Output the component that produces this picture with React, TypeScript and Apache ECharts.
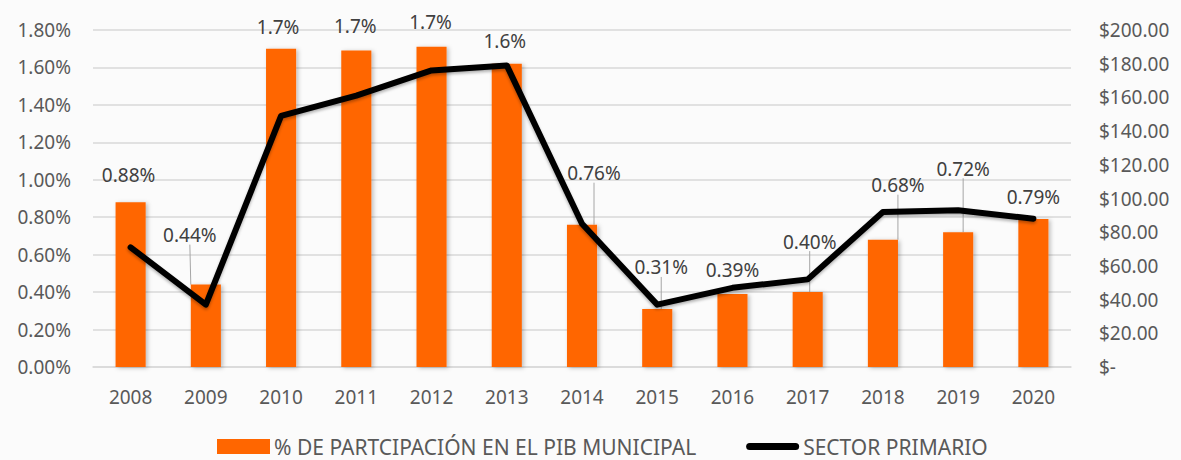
import React, { useEffect, useRef } from "react";
import * as echarts from "echarts";

const YEARS = ["2008", "2009", "2010", "2011", "2012", "2013", "2014", "2015", "2016", "2017", "2018", "2019", "2020"];
const PIB_SHARE = [0.88, 0.44, 1.70, 1.69, 1.71, 1.62, 0.76, 0.31, 0.39, 0.40, 0.68, 0.72, 0.79];
const PIB_LABELS = ["0.88%", "0.44%", "1.7%", "1.7%", "1.7%", "1.6%", "0.76%", "0.31%", "0.39%", "0.40%", "0.68%", "0.72%", "0.79%"];
const SECTOR_PRIMARIO = [71, 37, 149, 161, 176, 179, 85, 37, 47, 52, 92, 93, 88];
const LEFT_TICKS_MAX = 1.8;
const RIGHT_TICKS_MAX = 200;
const SERIES_NAMES = ["% DE PARTCIPACIÓN EN EL PIB MUNICIPAL", "SECTOR PRIMARIO"];

// label nudges (layout only)
const LABEL_DX = [-2, -16, -3, -1, -1, -2, 12, 4, 0, 2, 15, 5, 0];
const LABEL_DY = [-6, -28, 0, -3, -3, -1, -30, -20, -2, -29, -33, -42, -1];
const LEADER = [false, true, false, false, false, false, true, true, false, true, true, true, false];

const FONT = "'Noto Sans', sans-serif";
const TXT = "#595959";

export default function App() {
  const ref = useRef<HTMLDivElement>(null);
  useEffect(() => {
    if (!ref.current) return;
    const chart = echarts.init(ref.current, undefined, { renderer: "svg" });

    chart.setOption({
      animation: false,
      backgroundColor: "#fbfbfb",
      grid: { left: 93, right: 110, top: 30, bottom: 93, containLabel: false },
      legend: {
        top: 431,
        left: 212,
        itemGap: 50,
        itemWidth: 53,
        itemHeight: 15,
        textStyle: { color: TXT, fontSize: 21, fontFamily: FONT, padding: [0, 0, 0, -1] },
        data: [
          { name: SERIES_NAMES[0], icon: "rect" },
          { name: SERIES_NAMES[1], icon: "path://M4,0 H56 A4,4 0 0 1 56,8 H4 A4,4 0 0 1 4,0 Z" },
        ],
      },
      xAxis: {
        type: "category",
        data: YEARS,
        axisLine: { show: true, lineStyle: { color: "#d9d9d9", width: 1.5 } },
        axisTick: { show: false },
        axisLabel: { color: TXT, fontSize: 19, fontFamily: FONT, margin: 20 },
      },
      yAxis: [
        {
          type: "value",
          min: 0,
          max: LEFT_TICKS_MAX,
          interval: 0.2,
          axisLine: { show: false },
          axisTick: { show: false },
          splitLine: { lineStyle: { color: "#d9d9d9", width: 1.5 } },
          axisLabel: {
            color: TXT,
            fontSize: 19,
            fontFamily: FONT,
            margin: 22,
            formatter: (v: number) => v.toFixed(2) + "%",
          },
        },
        {
          type: "value",
          min: 0,
          max: RIGHT_TICKS_MAX,
          interval: 20,
          position: "right",
          axisLine: { show: false },
          axisTick: { show: false },
          splitLine: { show: false },
          axisLabel: {
            color: TXT,
            fontSize: 19,
            fontFamily: FONT,
            margin: 28,
            align: "left",
            formatter: (v: number) => (v === 0 ? "$-" : "$" + v.toFixed(2)),
          },
        },
      ],
      series: [
        {
          name: SERIES_NAMES[0],
          type: "bar",
          yAxisIndex: 0,
          barWidth: "40%",
          itemStyle: {
            color: "#ff6600",
            shadowColor: "rgba(0,0,0,0.25)",
            shadowBlur: 4,
            shadowOffsetX: 2,
            shadowOffsetY: 1,
          },
          data: PIB_SHARE.map((v, i) => ({
            value: v,
            label: { formatter: PIB_LABELS[i] },
            labelLine: { show: LEADER[i] },
          })),
          label: {
            show: true,
            position: "top",
            distance: 12,
            color: "#404040",
            fontSize: 19,
            fontFamily: FONT,
          },
          labelLine: { show: false, lineStyle: { color: "#a6a6a6", width: 1 } },
          labelLayout: (p: any) => ({ dx: LABEL_DX[p.dataIndex], dy: LABEL_DY[p.dataIndex] }),
          z: 2,
        },
        {
          name: SERIES_NAMES[1],
          type: "line",
          yAxisIndex: 1,
          data: SECTOR_PRIMARIO,
          showSymbol: false,
          symbol: "none",
          lineStyle: {
            color: "#000000",
            width: 6,
            cap: "round",
            join: "round",
            shadowColor: "rgba(0,0,0,0.3)",
            shadowBlur: 3,
            shadowOffsetY: 2,
          },
          itemStyle: { color: "#000000" },
          z: 3,
        },
      ],
    });
    return () => chart.dispose();
  }, []);
  return <div ref={ref} style={{ position: "absolute", left: 0, top: 0, width: 1181, height: 460 }} />;
}
